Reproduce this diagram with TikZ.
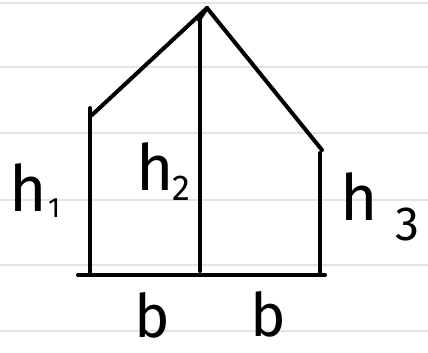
\documentclass[tikz,border=0pt]{standalone}
\usepackage{fontspec}
\setmainfont{Fira Sans}
\begin{document}
\begin{tikzpicture}[x=1pt,y=-1pt,
  ruled/.style={line width=2.5pt,color=black!11},
  ink/.style={line width=4pt,line cap=round,line join=round},
  lbl/.style={inner sep=0pt,text depth=0pt,anchor=base west,font=\fontsize{64}{64}\selectfont},
  sub/.style={inner sep=0pt,text depth=0pt,anchor=base west}]
\useasboundingbox (0,0) rectangle (428,353);
\fill[white] (0,0) rectangle (428,353);
\foreach \yy in {3,67,133,200,265,331}
  \draw[ruled] (0,\yy) -- (428,\yy);
% points
\coordinate (bl) at (78,275);
\coordinate (br) at (325,275);
\coordinate (lb) at (90,273);
\coordinate (lt) at (90,108);
\coordinate (lr) at (92,115);
\coordinate (mb) at (200,271);
\coordinate (mt) at (200,18);
\coordinate (ta) at (207,8);
\coordinate (tb) at (199,20);
\coordinate (rt) at (322,150);
\coordinate (rb) at (320,274);
\coordinate (rv) at (320,153);
\draw[ink] (bl) -- (br);
\draw[ink] (lb) -- (lt);
\draw[ink] (lr) -- (ta);
\draw[ink] (ta) -- (tb);
\draw[ink] (mt) -- (mb);
\draw[ink] (ta) -- (rt);
\draw[ink] (rv) -- (rb);
% labels
\node[lbl] (h1) at (9,211) {h};
\node[sub,font=\fontsize{28}{28}\selectfont] (s1) at (48,217) {1};
\node[lbl] (h2) at (136,190) {h};
\node[sub,font=\fontsize{36}{36}\selectfont] (s2) at (172,200) {2};
\node[lbl] (h3) at (340,220) {h};
\node[sub,font=\fontsize{48}{48}\selectfont] (s3) at (395,240) {3};
\node[lbl,font=\fontsize{60}{60}\selectfont] (b1) at (134,337) {b};
\node[lbl,font=\fontsize{60}{60}\selectfont] (b2) at (250,336) {b};
\end{tikzpicture}
\end{document}
